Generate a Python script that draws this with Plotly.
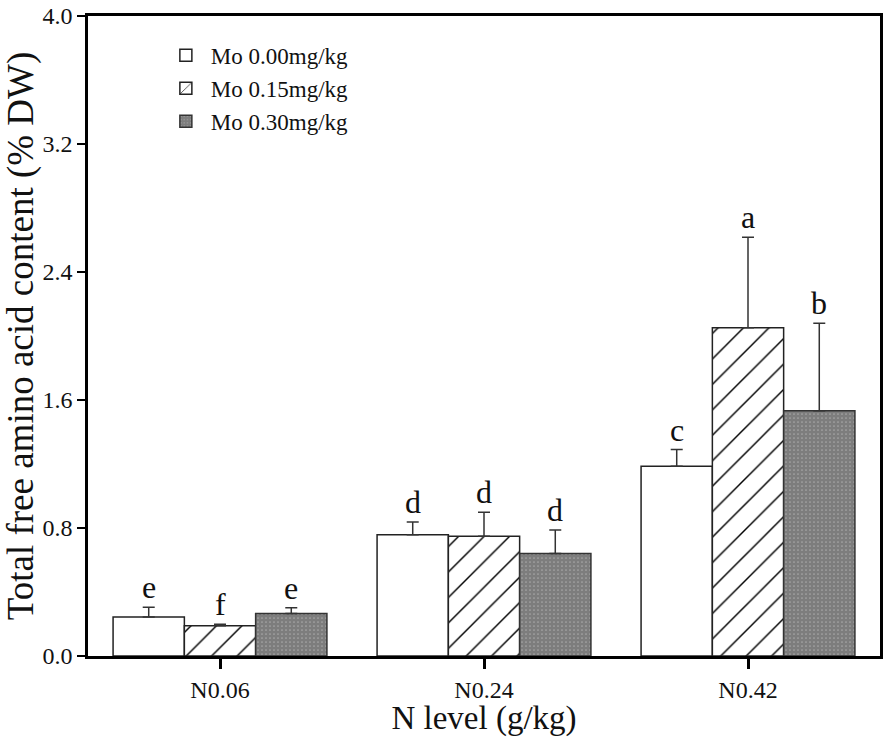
import plotly.graph_objects as go

# N levels (x categories)
n_levels = ["N0.06", "N0.24", "N0.42"]

# Mo treatments
mo_names = ["Mo 0.00mg/kg", "Mo 0.15mg/kg", "Mo 0.30mg/kg"]

# mean total free amino acid content (% DW)
mo000 = [0.243, 0.758, 1.186]
mo015 = [0.189, 0.748, 2.052]
mo030 = [0.266, 0.640, 1.533]

# upper error (SD)
err000 = [0.062, 0.080, 0.104]
err015 = [0.010, 0.150, 0.565]
err030 = [0.035, 0.147, 0.546]

# significance letters
let000 = ["e", "d", "c"]
let015 = ["f", "d", "a"]
let030 = ["e", "d", "b"]

bar_w = 0.27
font = "Liberation Serif, Times New Roman, serif"

series = [
    (mo_names[0], mo000, err000, let000, -bar_w,
     dict(color="white", line=dict(color="#222", width=1.5))),
    (mo_names[1], mo015, err015, let015, 0.0,
     dict(color="white", line=dict(color="#222", width=1.5),
          pattern=dict(shape="/", fgcolor="black", fgopacity=1, bgcolor="white",
                       size=18, solidity=0.08))),
    (mo_names[2], mo030, err030, let030, bar_w,
     dict(color="#7d7d7d", line=dict(color="#333", width=1.5),
          pattern=dict(shape=".", fgcolor="#a8a8a8", fgopacity=1, bgcolor="#7d7d7d",
                       size=4, solidity=0.15))),
]

fig = go.Figure()
for name, vals, errs, letters, off, marker in series:
    xs = [i + off for i in range(len(n_levels))]
    fig.add_trace(go.Bar(
        x=xs, y=vals, width=bar_w, name=name, marker=marker,
        error_y=dict(type="data", array=errs, arrayminus=[0] * len(errs), symmetric=False,
                     color="#333", thickness=1.5, width=6),
    ))
    for x, v, e, t in zip(xs, vals, errs, letters):
        fig.add_annotation(x=x, y=v + e, text=t, showarrow=False, yanchor="bottom",
                           yshift=0, font=dict(family=font, size=32, color="#111"))

fig.update_layout(
    width=886, height=737,
    barmode="overlay",
    plot_bgcolor="white", paper_bgcolor="white",
    margin=dict(l=88, r=3, t=14, b=81),
    font=dict(family=font, color="#111"),
    showlegend=True,
    legend=dict(x=0.092, y=0.972, xanchor="left", yanchor="top",
                font=dict(family=font, size=23), bgcolor="rgba(0,0,0,0)",
                tracegroupgap=0, itemwidth=40),
)
fig.update_xaxes(
    range=[-0.5, 2.5], tickvals=list(range(len(n_levels))), ticktext=n_levels,
    showline=True, linecolor="black", linewidth=2.5, mirror=True,
    ticks="outside", ticklen=10, tickwidth=2.5, tickcolor="black",
    tickfont=dict(size=24), showgrid=False, zeroline=False,
    title=dict(text="N level (g/kg)", font=dict(size=33), standoff=2),
)
fig.update_yaxes(
    range=[0, 4.0], tickvals=[0, 0.8, 1.6, 2.4, 3.2, 4.0], tickformat=".1f",
    showline=True, linecolor="black", linewidth=2.5, mirror=True,
    ticks="outside", ticklen=8, tickwidth=2, tickcolor="black",
    tickfont=dict(size=24), showgrid=False, zeroline=False, ticklabelstandoff=0,
    title=dict(text="Total free amino acid content (% DW)", font=dict(size=37), standoff=0),
)

# drop the default page margin so the figure fills the window
fig.write_html("out.html", config={"displayModeBar": False},
               post_script="document.body.style.margin='0';")
